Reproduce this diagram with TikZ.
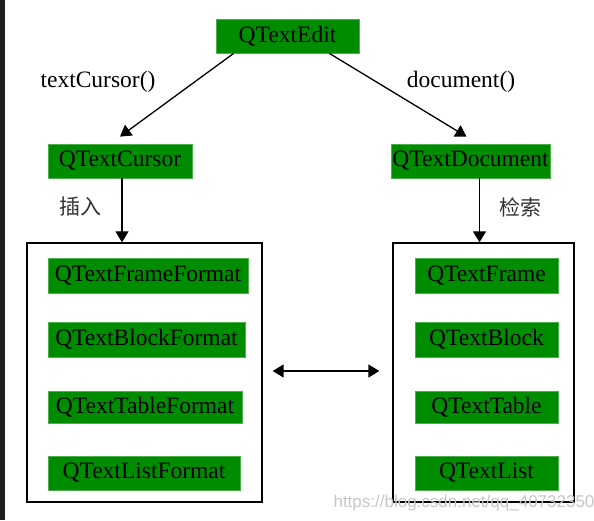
\documentclass[tikz,border=0pt]{standalone}
\usepackage{fontspec}
\setmainfont{Liberation Serif}
\newfontfamily\cjk{Noto Sans CJK SC}
\newfontfamily\wmfont{Liberation Sans}
\usetikzlibrary{arrows.meta}
\definecolor{qgreen}{RGB}{0,140,0}
\definecolor{darkstrip}{RGB}{30,31,34}
\tikzset{
  cls/.style={fill=qgreen, draw=qgreen!70!white, line width=0.8pt, inner sep=0pt, font=\fontsize{23.5}{25}\selectfont, text=black},
  grp/.style={draw=black, line width=1.4pt, fill=white},
  lbl/.style={font=\fontsize{23.5}{25}\selectfont, inner sep=0pt},
  cjklbl/.style={font=\cjk\fontsize{21}{23}\selectfont, inner sep=0pt, text=black!80},
  arr/.style={line width=1.3pt, -{Triangle[length=11pt,width=13pt]}},
  darr/.style={line width=1.6pt, {Triangle[length=11pt,width=13pt]}-{Triangle[length=11pt,width=13pt]}},
}
\begin{document}
\begin{tikzpicture}[x=1pt,y=-1pt]
\useasboundingbox (0,0) rectangle (594,520);
\fill[white] (0,0) rectangle (594,520);
\fill[darkstrip] (0,0) rectangle (5,520);

% top nodes
\node[cls, minimum width=143pt, minimum height=34pt] (edit) at (287.5,36) {QTextEdit};
\node[cls, minimum width=144pt, minimum height=34pt] (cursor) at (120,161) {QTextCursor};
\node[cls, minimum width=159pt, minimum height=34pt] (doc) at (470.5,161) {QTextDocument};

% group boxes
\node[grp, minimum width=235pt, minimum height=259pt] (lbox) at (144.5,372.5) {};
\node[grp, minimum width=181pt, minimum height=259pt] (rbox) at (483.5,372.5) {};

% left inner
\node[cls, minimum width=200pt, minimum height=35pt] (lf) at (148,275.5) {QTextFrameFormat};
\node[cls, minimum width=197pt, minimum height=35pt] (lb) at (146.5,339.5) {QTextBlockFormat};
\node[cls, minimum width=194pt, minimum height=32pt] (lt) at (145,407) {QTextTableFormat};
\node[cls, minimum width=192pt, minimum height=34pt] (ll) at (144,473) {QTextListFormat};

% right inner
\node[cls, minimum width=143pt, minimum height=35pt] (rf) at (486.5,275.5) {QTextFrame};
\node[cls, minimum width=143pt, minimum height=35pt] (rb) at (486.5,339.5) {QTextBlock};
\node[cls, minimum width=143pt, minimum height=32pt] (rt) at (486.5,407) {QTextTable};
\node[cls, minimum width=143pt, minimum height=34pt] (rl) at (486.5,473) {QTextList};

% labels
\node[lbl] (l1) at (98,82) {textCursor()};
\node[lbl] (l2) at (461,82) {document()};
\node[cjklbl] (l3) at (80,207) {插入};
\node[cjklbl] (l4) at (520,207) {检索};

% connectors
\draw[arr] ([xshift=18pt]edit.south west) -- ([yshift=7pt]cursor.north);
\draw[arr] ([xshift=-30pt]edit.south east) -- ([yshift=7pt,xshift=-4pt]doc.north);
\draw[arr] ([xshift=2pt]cursor.south) -- ([xshift=2pt]cursor.south |- lbox.north);
\draw[arr] ([xshift=9pt]doc.south) -- ([xshift=9pt]doc.south |- rbox.north);
\draw[darr, shorten <=10pt, shorten >=13pt] ([yshift=1.5pt]lbox.east) -- ([yshift=1.5pt]rbox.west);

% watermark
\node[font=\wmfont\fontsize{17}{19}\selectfont, text=black!22, inner sep=0pt] (wm) at (464,503) {https://blog.csdn.net/qq\_40732350};
\end{tikzpicture}
\end{document}
